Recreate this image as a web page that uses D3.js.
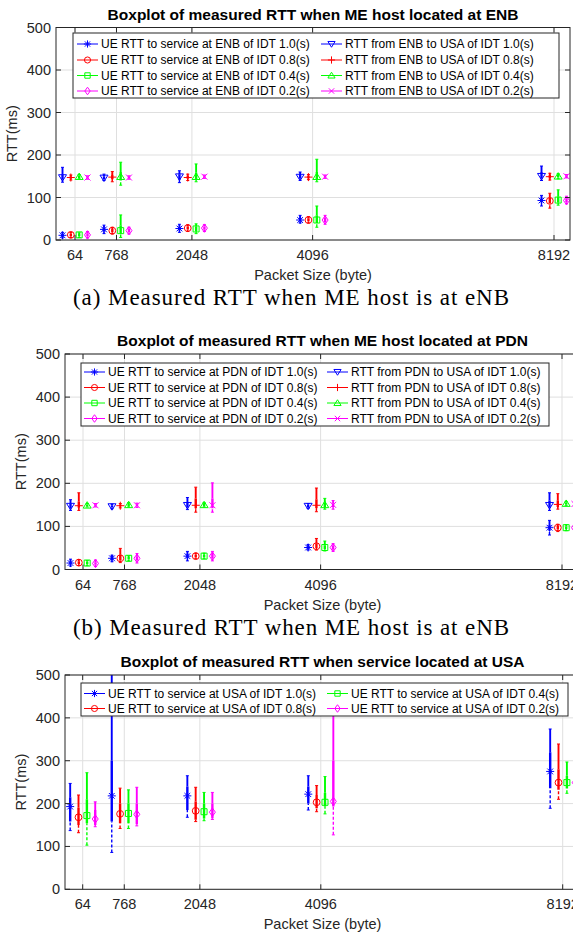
<!DOCTYPE html>
<html>
<head>
<meta charset="utf-8">
<script src="https://cdn.jsdelivr.net/npm/d3@7"></script>
<style>
body { margin: 0; background: #fff; }
text { font-family: "Liberation Sans", Arial, sans-serif; fill: #262626; }
.cap { font-family: "Liberation Serif", "Times New Roman", serif; fill: #000; }
</style>
</head>
<body>
<svg id="chart" width="573" height="933"></svg>
<script>
// packet sizes on the x axis
var sizes = [64, 768, 2048, 4096, 8192];
var sizeLabels = ["64", "768", "2048", "4096", "8192"];
var yTicks = [0, 100, 200, 300, 400, 500];
var idtLabels = ["1.0", "0.8", "0.4", "0.2"];

// each entry: [lower whisker, q1, median, q3, upper whisker] in ms, one per packet size
var enbUe10 = [[5, 8, 11, 14, 18], [15, 20, 25, 30, 35], [18, 23, 27, 32, 37], [40, 44, 47, 52, 58], [80, 88, 93, 98, 105]];
var enbUe08 = [[6, 9, 12, 15, 18], [14, 18, 22, 26, 30], [20, 25, 28, 32, 36], [40, 44, 47, 51, 55], [75, 86, 92, 100, 110]];
var enbUe04 = [[6, 9, 12, 14, 17], [6, 15, 22, 35, 59], [15, 21, 26, 31, 38], [30, 40, 47, 58, 80], [82, 88, 94, 102, 118]];
var enbUe02 = [[5, 9, 12, 16, 20], [14, 18, 22, 27, 30], [20, 24, 28, 32, 36], [37, 42, 47, 53, 58], [85, 89, 93, 98, 103]];
var enbUsa10 = [[136, 142, 147, 155, 171], [140, 143, 146, 150, 155], [135, 142, 149, 155, 163], [140, 144, 148, 153, 160], [140, 145, 150, 160, 174]];
var enbUsa08 = [[141, 144, 147, 150, 153], [137, 143, 148, 153, 161], [140, 144, 147, 151, 155], [142, 145, 148, 151, 154], [141, 145, 149, 153, 157]];
var enbUsa04 = [[144, 146, 149, 151, 154], [129, 140, 149, 160, 183], [137, 143, 149, 158, 179], [137, 143, 149, 160, 190], [144, 147, 150, 153, 156]];
var enbUsa02 = [[143, 145, 147, 149, 151], [143, 145, 147, 149, 151], [145, 147, 149, 151, 153], [145, 147, 149, 151, 153], [146, 148, 150, 152, 154]];

var pdnUe10 = [[8, 12, 15, 19, 24], [18, 22, 26, 29, 33], [20, 26, 31, 36, 42], [45, 48, 51, 54, 58], [80, 90, 97, 104, 114]];
var pdnUe08 = [[9, 13, 16, 19, 23], [16, 21, 26, 35, 49], [25, 28, 31, 34, 38], [45, 50, 54, 60, 72], [88, 93, 97, 101, 105]];
var pdnUe04 = [[9, 12, 15, 18, 21], [20, 23, 26, 29, 32], [25, 28, 31, 34, 38], [43, 47, 51, 56, 66], [90, 94, 97, 100, 104]];
var pdnUe02 = [[7, 11, 14, 17, 22], [15, 21, 26, 31, 37], [20, 26, 31, 36, 42], [42, 46, 51, 55, 60], [90, 94, 97, 100, 104]];
var pdnUsa10 = [[137, 142, 147, 153, 162], [141, 144, 146, 149, 152], [139, 144, 149, 156, 167], [142, 145, 147, 150, 153], [137, 143, 149, 160, 178]];
var pdnUsa08 = [[137, 143, 148, 158, 178], [143, 146, 148, 150, 153], [133, 142, 149, 165, 191], [134, 142, 149, 163, 189], [140, 145, 151, 160, 176]];
var pdnUsa04 = [[145, 147, 149, 151, 153], [145, 147, 150, 152, 155], [145, 147, 150, 152, 155], [140, 145, 150, 156, 165], [148, 150, 153, 155, 158]];
var pdnUsa02 = [[145, 147, 149, 151, 153], [144, 147, 149, 151, 154], [133, 142, 149, 165, 201], [140, 145, 150, 154, 160], [148, 150, 152, 154, 156]];

var usaUe10 = [[137, 158, 193, 215, 247], [86, 158, 218, 300, 520], [168, 185, 218, 240, 265], [185, 200, 222, 240, 265], [189, 236, 275, 320, 374]];
var usaUe08 = [[132, 150, 168, 190, 220], [142, 154, 176, 200, 236], [158, 162, 183, 205, 238], [181, 189, 203, 220, 242], [210, 232, 249, 280, 339]];
var usaUe04 = [[103, 154, 172, 210, 272], [142, 154, 177, 200, 232], [160, 165, 181, 200, 226], [176, 193, 203, 225, 263], [224, 235, 249, 265, 297]];
var usaUe02 = [[146, 150, 164, 185, 204], [148, 152, 175, 200, 238], [163, 166, 180, 200, 226], [127, 193, 205, 300, 450], [238, 242, 249, 256, 262]];

var colors = ["#0000ff", "#ff0000", "#00ff00", "#ff00ff"];
var offsets = [-212, -71, 71, 212];   // box offset from the packet size, per IDT

function ueSeries(site, arrs) {
  var marks = ["star", "circle", "square", "diamond"];
  return arrs.map(function (a, k) {
    return { label: "UE RTT to service at " + site + " of IDT " + idtLabels[k] + "(s)", color: colors[k], marker: marks[k], slot: k, data: a };
  });
}
function usaSeries(site, arrs) {
  var marks = ["tridown", "plus", "triup", "cross"];
  return arrs.map(function (a, k) {
    return { label: "RTT from " + site + " to USA of IDT " + idtLabels[k] + "(s)", color: colors[k], marker: marks[k], slot: k, data: a };
  });
}

var panels = [
  {
    title: "Boxplot of measured RTT when ME host located at ENB",
    caption: "(a) Measured RTT when ME host is at eNB",
    left: 56, right: 570, top: 27.5, bottom: 240, px64: 75, px8192: 554, capY: 298,
    legend: { x: 73, y: 33, w: 486, h: 65, rowY: [44, 60, 75.5, 91], col: [77, 321] },
    series: ueSeries("ENB", [enbUe10, enbUe08, enbUe04, enbUe02]).concat(usaSeries("ENB", [enbUsa10, enbUsa08, enbUsa04, enbUsa02])),
    legendOrder: [[0, 4], [1, 5], [2, 6], [3, 7]]
  },
  {
    title: "Boxplot of measured RTT when ME host located at PDN",
    caption: "(b) Measured RTT when ME host is at eNB",
    left: 65, right: 580, top: 354, bottom: 569.5, px64: 83, px8192: 562, capY: 628,
    legend: { x: 81, y: 363, w: 468, h: 63, rowY: [372, 387.5, 403, 418.5], col: [84, 327] },
    series: ueSeries("PDN", [pdnUe10, pdnUe08, pdnUe04, pdnUe02]).concat(usaSeries("PDN", [pdnUsa10, pdnUsa08, pdnUsa04, pdnUsa02])),
    legendOrder: [[0, 4], [1, 5], [2, 6], [3, 7]]
  },
  {
    title: "Boxplot of measured RTT when service located at USA",
    caption: null,
    left: 65, right: 580, top: 675, bottom: 889.3, px64: 82.7, px8192: 562.7, capY: 0,
    legend: { x: 81, y: 683, w: 487, h: 33, rowY: [693.5, 708.5], col: [84, 327] },
    series: ueSeries("USA", [usaUe10, usaUe08, usaUe04, usaUe02]),
    legendOrder: [[0, 2], [1, 3]]
  }
];

var svg = d3.select("#chart");
svg.append("rect").attr("width", 573).attr("height", 933).attr("fill", "#fff");

function markerPath(type, s) {
  var p = d3.path();
  if (type === "star") {
    p.moveTo(-s, 0); p.lineTo(s, 0); p.moveTo(0, -s); p.lineTo(0, s);
    var d = s * 0.72;
    p.moveTo(-d, -d); p.lineTo(d, d); p.moveTo(-d, d); p.lineTo(d, -d);
  } else if (type === "circle") {
    p.arc(0, 0, s * 0.85, 0, 2 * Math.PI);
  } else if (type === "square") {
    var q = s * 0.75;
    p.rect(-q, -q, 2 * q, 2 * q);
  } else if (type === "diamond") {
    p.moveTo(0, -s * 1.05); p.lineTo(s * 0.75, 0); p.lineTo(0, s * 1.05); p.lineTo(-s * 0.75, 0); p.closePath();
  } else if (type === "tridown") {
    p.moveTo(-s, -s * 0.7); p.lineTo(s, -s * 0.7); p.lineTo(0, s * 0.9); p.closePath();
  } else if (type === "triup") {
    p.moveTo(-s, s * 0.7); p.lineTo(s, s * 0.7); p.lineTo(0, -s * 0.9); p.closePath();
  } else if (type === "plus") {
    p.moveTo(-s, 0); p.lineTo(s, 0); p.moveTo(0, -s); p.lineTo(0, s);
  } else if (type === "cross") {
    var c = s * 0.75;
    p.moveTo(-c, -c); p.lineTo(c, c); p.moveTo(-c, c); p.lineTo(c, -c);
  }
  return p.toString();
}

panels.forEach(function (P, pi) {
  var g = svg.append("g");
  var x = d3.scaleLinear().domain([64, 8192]).range([P.px64, P.px8192]);
  var y = d3.scaleLinear().domain([0, 500]).range([P.bottom, P.top]);
  var W = P.right - P.left, H = P.bottom - P.top;

  // grid
  g.selectAll(".gy").data(yTicks).enter().append("line")
    .attr("x1", P.left).attr("x2", P.right)
    .attr("y1", function (d) { return y(d); }).attr("y2", function (d) { return y(d); })
    .attr("stroke", "#dfdfdf").attr("stroke-width", 1);
  g.selectAll(".gx").data(sizes).enter().append("line")
    .attr("x1", function (d) { return x(d); }).attr("x2", function (d) { return x(d); })
    .attr("y1", P.top).attr("y2", P.bottom)
    .attr("stroke", "#dfdfdf").attr("stroke-width", 1);

  // boxes
  var clipId = "clip" + pi;
  svg.append("clipPath").attr("id", clipId).append("rect")
    .attr("x", P.left).attr("y", P.top).attr("width", W).attr("height", H);
  var plot = g.append("g").attr("clip-path", "url(#" + clipId + ")");

  P.series.forEach(function (s) {
    var bg = plot.append("g").attr("stroke", s.color).attr("fill", "none");
    s.data.forEach(function (b, i) {
      var cx = x(sizes[i] + offsets[s.slot]);
      bg.append("line").attr("x1", cx).attr("x2", cx).attr("y1", y(b[0])).attr("y2", y(b[1]))
        .attr("stroke-width", 1.4).attr("stroke-dasharray", "3,2");
      bg.append("line").attr("x1", cx).attr("x2", cx).attr("y1", y(b[3])).attr("y2", y(b[4]))
        .attr("stroke-width", 1.9);
      bg.append("line").attr("x1", cx).attr("x2", cx).attr("y1", y(b[1])).attr("y2", y(b[3]))
        .attr("stroke-width", 2.4);
      [b[0], b[4]].forEach(function (v) {
        bg.append("line").attr("x1", cx - 1.5).attr("x2", cx + 1.5).attr("y1", y(v)).attr("y2", y(v))
          .attr("stroke-width", 1);
      });
      bg.append("path").attr("d", markerPath(s.marker, 4))
        .attr("transform", "translate(" + cx + "," + y(b[2]) + ")")
        .attr("stroke-width", 1);
    });
  });

  // axes frame with inward ticks
  var ax = g.append("g").attr("stroke", "#262626").attr("stroke-width", 1).attr("fill", "none");
  ax.append("rect").attr("x", P.left).attr("y", P.top).attr("width", W).attr("height", H);
  yTicks.forEach(function (t) {
    ax.append("line").attr("x1", P.left).attr("x2", P.left + 5).attr("y1", y(t)).attr("y2", y(t));
    ax.append("line").attr("x1", P.right).attr("x2", P.right - 5).attr("y1", y(t)).attr("y2", y(t));
  });
  sizes.forEach(function (t) {
    ax.append("line").attr("x1", x(t)).attr("x2", x(t)).attr("y1", P.bottom).attr("y2", P.bottom - 5);
    ax.append("line").attr("x1", x(t)).attr("x2", x(t)).attr("y1", P.top).attr("y2", P.top + 5);
  });

  // tick labels
  g.selectAll(".ty").data(yTicks).enter().append("text")
    .attr("x", P.left - 5).attr("y", function (d) { return y(d) + 5; })
    .attr("text-anchor", "end").style("font-size", "14.5px").text(function (d) { return d; });
  g.selectAll(".tx").data(sizes).enter().append("text")
    .attr("x", function (d) { return x(d); }).attr("y", P.bottom + 20)
    .attr("text-anchor", "middle").style("font-size", "14.5px")
    .text(function (d, i) { return sizeLabels[i]; });

  // labels and title
  g.append("text").attr("x", (P.left + P.right) / 2).attr("y", P.bottom + 40)
    .attr("text-anchor", "middle").style("font-size", "14.5px").text("Packet Size (byte)");
  g.append("text").attr("transform", "translate(" + (P.left - 39) + "," + (P.top + H / 2) + ") rotate(-90)")
    .attr("text-anchor", "middle").style("font-size", "14.5px").text("RTT(ms)");
  g.append("text").attr("x", (P.left + P.right) / 2).attr("y", P.top - 8)
    .attr("text-anchor", "middle").style("font-size", "15.5px").style("font-weight", "bold")
    .style("fill", "#000").text(P.title);

  // legend
  var L = P.legend;
  var lg = g.append("g");
  lg.append("rect").attr("x", L.x).attr("y", L.y).attr("width", L.w).attr("height", L.h)
    .attr("fill", "#fff").attr("stroke", "#262626").attr("stroke-width", 1);
  P.legendOrder.forEach(function (row, r) {
    row.forEach(function (si, c) {
      var s = P.series[si];
      var x0 = L.col[c], yy = L.rowY[r];
      lg.append("line").attr("x1", x0).attr("x2", x0 + 21).attr("y1", yy).attr("y2", yy)
        .attr("stroke", s.color).attr("stroke-width", 1);
      lg.append("path").attr("d", markerPath(s.marker, 3.6))
        .attr("transform", "translate(" + (x0 + 10.5) + "," + yy + ")")
        .attr("stroke", s.color).attr("fill", "none").attr("stroke-width", 1);
      lg.append("text").attr("x", x0 + 24).attr("y", yy + 4.3)
        .style("font-size", "12px").style("fill", "#000").text(s.label);
    });
  });

  if (P.caption) {
    svg.append("text").attr("class", "cap").attr("x", 291).attr("y", P.capY + 7)
      .attr("text-anchor", "middle").style("font-size", "23px")
      .attr("textLength", 436).attr("lengthAdjust", "spacing").text(P.caption);
  }
});
</script>
</body>
</html>
